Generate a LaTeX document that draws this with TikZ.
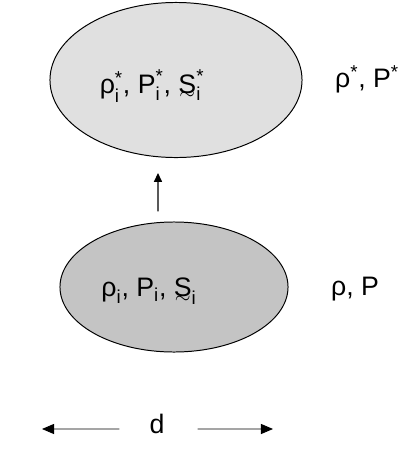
\documentclass[tikz,border=0pt]{standalone}
\usepackage{amsmath}
\usepackage{fontspec}
\setmainfont{Liberation Sans}
\usetikzlibrary{shapes.geometric, arrows.meta, positioning}

\definecolor{upgray}{RGB}{224,224,224}
\definecolor{lowgray}{RGB}{196,196,196}
\newcommand{\Svec}{\text{\ooalign{S\cr\hidewidth\raisebox{-0.45ex}{$\scriptstyle\sim$}\hidewidth\cr}}}

\begin{document}
\begin{tikzpicture}[x=0.025cm, y=-0.025cm, font=\fontsize{19}{22}\selectfont]
  \useasboundingbox (0,0) rectangle (409,449);
  \tikzset{
    blob/.style={ellipse, draw, line width=0.7pt, inner sep=0pt},
    val/.style={inner sep=0pt},
    uparr/.style={line width=0.8pt, -{Triangle[length=0.22cm, width=0.2cm]}},
    darr/.style={line width=0.6pt, -{Triangle[length=0.3cm, width=0.25cm]}},
  }
  % Upper state
  \node[blob, fill=upgray, minimum width=6.3cm, minimum height=3.875cm] (up) at (176,80) {};
  \node[val] (upin) at (152,86) {$\text{ρ}^{\text{*}}_{\text{i}}\text{, P}^{\text{*}}_{\text{i}}\text{, }\Svec^{\text{*}}_{\text{i}}$};
  \node[val] (upout) at (367,79) {ρ\textsuperscript{*}, P\textsuperscript{*}};

  % Lower state
  \node[blob, fill=lowgray, minimum width=5.7cm, minimum height=3.25cm] (low) at (174,287) {};
  \node[val] (lowin) at (149,291) {$\text{ρ}_{\text{i}}\text{, P}_{\text{i}}\text{, }\Svec_{\text{i}}$};
  \node[val] (lowout) at (355,289) {ρ, P};

  \draw[uparr] ([xshift=-0.4cm, yshift=0.25cm]low.north) -- ([xshift=-0.45cm, yshift=-0.375cm]up.south);

  % Width d
  \node[val] (d) at (157,424) {d};
  \coordinate (dl) at (42,429);
  \coordinate (dr) at (273,429);
  \draw[darr, shorten <=0.75cm] ([yshift=-0.125cm]d.west) -- (dl);
  \draw[darr, shorten <=0.82cm] ([yshift=-0.125cm]d.east) -- (dr);
\end{tikzpicture}
\end{document}
